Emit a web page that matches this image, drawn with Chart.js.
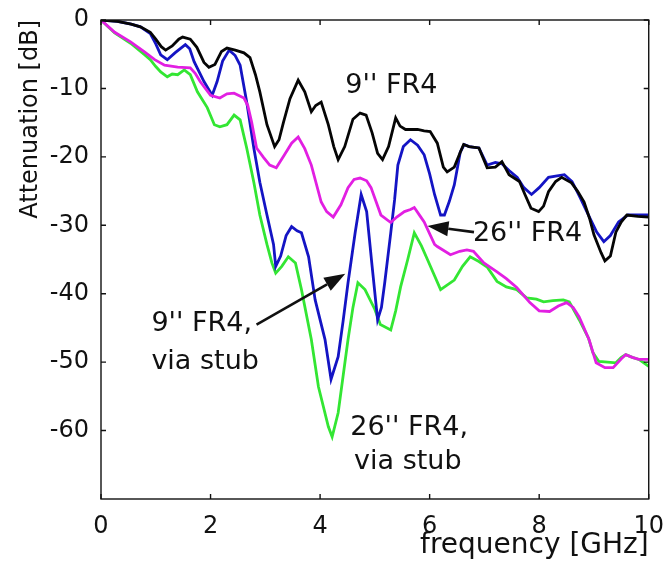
<!DOCTYPE html>
<html>
<head>
<meta charset="utf-8">
<title>Attenuation vs frequency</title>
<script src="https://cdn.jsdelivr.net/npm/chart.js@4.4.1/dist/chart.umd.min.js"></script>
<style>
    html, body { margin: 0; padding: 0; background: #ffffff; }
    canvas { display: block; }
</style>
</head>
<body>
<canvas id="attenuationChart" width="669" height="569"></canvas>
<script>
const xTicks = [0, 2, 4, 6, 8, 10];
const yTicks = [0, -10, -20, -30, -40, -50, -60];

// 9" FR4
const fr4ShortFreq = [0, 0.3, 0.55, 0.72, 0.9, 1.0, 1.1, 1.18, 1.3, 1.42, 1.49, 1.63, 1.75, 1.88, 1.97, 2.08, 2.2, 2.3, 2.45, 2.61, 2.72, 2.82, 2.9, 3.03, 3.17, 3.25, 3.33, 3.45, 3.6, 3.72, 3.84, 3.92, 4.02, 4.15, 4.25, 4.33, 4.45, 4.6, 4.73, 4.84, 4.95, 5.05, 5.14, 5.25, 5.38, 5.46, 5.56, 5.78, 5.9, 6.01, 6.14, 6.25, 6.32, 6.45, 6.55, 6.62, 6.72, 6.9, 7.05, 7.2, 7.32, 7.45, 7.64, 7.74, 7.85, 7.99, 8.08, 8.17, 8.3, 8.41, 8.59, 8.7, 8.82, 8.92, 9.0, 9.13, 9.2, 9.3, 9.4, 9.5, 9.6, 9.8, 10.0];
const fr4ShortDb = [0, -0.2, -0.6, -1.0, -1.8, -2.8, -3.9, -4.4, -3.8, -2.8, -2.5, -2.8, -4.0, -6.2, -6.9, -6.5, -4.6, -4.1, -4.4, -4.8, -5.5, -8.0, -10.5, -15.3, -18.5, -17.5, -15.0, -11.5, -8.8, -10.5, -13.4, -12.5, -12.0, -15.3, -18.5, -20.4, -18.5, -14.5, -13.6, -13.9, -16.5, -19.5, -20.4, -18.5, -14.3, -15.5, -16.0, -16.0, -16.2, -16.3, -18.0, -21.5, -22.2, -21.5, -19.5, -18.2, -18.5, -18.7, -21.6, -21.5, -20.7, -22.6, -23.6, -25.5, -27.5, -28.0, -27.2, -25.1, -23.6, -23.0, -23.8, -25.0, -26.6, -29.0, -31.4, -34.0, -35.2, -34.5, -31.0, -29.5, -28.5, -28.7, -28.8];

// 9" FR4, via stub
const fr4ShortStubFreq = [0, 0.3, 0.55, 0.72, 0.9, 1.0, 1.09, 1.21, 1.35, 1.54, 1.62, 1.7, 1.88, 2.03, 2.12, 2.22, 2.34, 2.45, 2.54, 2.66, 2.79, 2.9, 3.03, 3.15, 3.19, 3.28, 3.38, 3.48, 3.58, 3.66, 3.79, 3.91, 4.09, 4.2, 4.33, 4.42, 4.51, 4.64, 4.75, 4.85, 4.95, 5.05, 5.12, 5.18, 5.29, 5.36, 5.42, 5.52, 5.65, 5.78, 5.9, 6.0, 6.09, 6.2, 6.27, 6.36, 6.45, 6.56, 6.63, 6.72, 6.9, 7.05, 7.2, 7.32, 7.45, 7.6, 7.72, 7.86, 8.0, 8.17, 8.3, 8.46, 8.6, 8.75, 8.9, 9.05, 9.18, 9.3, 9.45, 9.62, 9.8, 10.0];
const fr4ShortStubDb = [0, -0.2, -0.6, -1.0, -2.0, -3.5, -5.1, -5.8, -4.8, -3.6, -4.2, -6.1, -9.0, -11.0, -9.0, -6.0, -4.4, -5.2, -6.6, -12.0, -18.7, -23.7, -28.5, -32.8, -36.0, -34.5, -31.5, -30.2, -30.8, -31.1, -34.6, -40.9, -46.7, -52.5, -49.2, -44.0, -38.4, -31.1, -25.5, -28.0, -36.0, -43.8, -42.0, -38.4, -31.1, -26.3, -21.2, -18.5, -17.5, -18.3, -19.7, -22.5, -25.5, -28.5, -28.5, -26.5, -24.1, -19.3, -18.2, -18.5, -18.7, -21.2, -20.8, -21.0, -22.0, -23.0, -24.5, -25.5, -24.5, -23.0, -22.8, -22.6, -23.6, -26.0, -28.5, -31.0, -32.4, -31.5, -29.5, -28.5, -28.5, -28.5];

// 26" FR4
const fr4LongFreq = [0, 0.25, 0.54, 0.8, 0.98, 1.16, 1.4, 1.63, 1.72, 1.81, 2.0, 2.17, 2.3, 2.43, 2.61, 2.68, 2.75, 2.84, 2.97, 3.08, 3.2, 3.35, 3.48, 3.6, 3.72, 3.84, 4.02, 4.12, 4.24, 4.38, 4.51, 4.62, 4.73, 4.85, 4.93, 5.11, 5.29, 5.4, 5.54, 5.65, 5.72, 5.83, 5.9, 6.09, 6.14, 6.38, 6.55, 6.68, 6.8, 6.99, 7.23, 7.4, 7.59, 7.83, 8.0, 8.19, 8.35, 8.5, 8.62, 8.73, 8.91, 9.04, 9.2, 9.35, 9.5, 9.58, 9.7, 9.82, 10.0];
const fr4LongDb = [0, -1.8, -3.2, -4.7, -5.8, -6.6, -6.9, -7.0, -7.8, -9.0, -11.0, -11.4, -10.8, -10.7, -11.4, -12.5, -14.9, -18.7, -20.1, -21.2, -21.6, -19.7, -18.0, -17.1, -18.8, -21.2, -26.6, -28.0, -28.8, -27.0, -24.5, -23.3, -23.1, -23.5, -24.5, -28.5, -29.6, -28.8, -28.0, -27.7, -27.4, -28.7, -29.5, -32.8, -33.1, -34.3, -33.8, -33.6, -33.8, -35.5, -36.8, -37.8, -39.1, -41.3, -42.5, -42.6, -41.8, -41.3, -42.0, -43.4, -46.7, -50.1, -50.8, -50.8, -49.5, -48.9, -49.3, -49.6, -49.6];

// 26" FR4, via stub
const fr4LongStubFreq = [0, 0.25, 0.54, 0.8, 0.9, 1.0, 1.09, 1.21, 1.3, 1.4, 1.52, 1.63, 1.76, 1.94, 2.07, 2.17, 2.3, 2.43, 2.54, 2.66, 2.79, 2.9, 3.03, 3.12, 3.19, 3.3, 3.42, 3.55, 3.66, 3.84, 3.97, 4.15, 4.22, 4.33, 4.51, 4.6, 4.69, 4.82, 5.0, 5.1, 5.29, 5.38, 5.47, 5.6, 5.72, 5.85, 5.96, 6.2, 6.45, 6.6, 6.74, 6.9, 7.05, 7.23, 7.4, 7.59, 7.77, 7.95, 8.08, 8.25, 8.44, 8.55, 8.73, 8.9, 8.98, 9.09, 9.25, 9.4, 9.5, 9.58, 9.7, 9.82, 10.0];
const fr4LongStubDb = [0, -1.9, -3.4, -5.1, -5.8, -6.8, -7.6, -8.3, -7.9, -8.0, -7.3, -8.0, -10.5, -12.8, -15.3, -15.6, -15.3, -13.9, -14.6, -18.7, -23.7, -28.5, -32.8, -35.5, -37.0, -36.0, -34.6, -35.5, -39.4, -46.7, -53.6, -59.4, -60.9, -57.4, -46.7, -42.0, -38.4, -39.4, -42.3, -44.5, -45.3, -42.5, -39.0, -35.0, -31.1, -33.0, -35.0, -39.4, -38.0, -36.0, -34.6, -35.3, -36.1, -38.2, -39.0, -39.4, -40.6, -40.8, -41.2, -41.0, -40.9, -41.2, -43.8, -46.5, -48.6, -49.9, -50.0, -50.1, -49.3, -48.9, -49.3, -49.6, -50.6];

// text labels, anchored in data units (left edge, vertical middle)
const noteTexts = ["9'' FR4", "26'' FR4", "9'' FR4,", "via stub", "26'' FR4,", "via stub"];
const noteFreq = [4.46, 6.79, 0.92, 0.92, 4.55, 4.62];
const noteDb = [-9.6, -31.3, -44.4, -50.0, -59.6, -64.6];

// arrows: tail -> tip, data units
const arrowTailFreq = [6.81, 2.84];
const arrowTailDb = [-31.0, -44.5];
const arrowTipFreq = [5.96, 4.46];
const arrowTipDb = [-30.1, -37.1];

const FONT = "'DejaVu Sans', 'Liberation Sans', Arial, sans-serif";

function toPoints(freq, db) {
    return freq.map((f, i) => ({ x: f, y: db[i] }));
}

function drawArrow(ctx, x1, y1, x2, y2) {
    const angle = Math.atan2(y2 - y1, x2 - x1);
    const headLen = 21;
    const headHalf = 7.5;
    const bx = x2 - headLen * Math.cos(angle);
    const by = y2 - headLen * Math.sin(angle);

    ctx.beginPath();
    ctx.moveTo(x1, y1);
    ctx.lineTo(bx, by);
    ctx.stroke();

    ctx.beginPath();
    ctx.moveTo(x2, y2);
    ctx.lineTo(bx + headHalf * Math.sin(angle), by - headHalf * Math.cos(angle));
    ctx.lineTo(bx - headHalf * Math.sin(angle), by + headHalf * Math.cos(angle));
    ctx.closePath();
    ctx.fill();
}

const frameAndNotes = {
    id: "frameAndNotes",
    afterDatasetsDraw(chart) {
        const { ctx, chartArea: area } = chart;
        const xScale = chart.scales.x;
        const yScale = chart.scales.y;
        const tickLen = 5;

        ctx.save();
        ctx.strokeStyle = "#111";
        ctx.lineWidth = 1.4;
        ctx.strokeRect(area.left, area.top, area.right - area.left, area.bottom - area.top);

        // inward ticks on all four sides
        ctx.beginPath();
        xTicks.forEach(v => {
            const px = xScale.getPixelForValue(v);
            ctx.moveTo(px, area.bottom);
            ctx.lineTo(px, area.bottom - tickLen);
            ctx.moveTo(px, area.top);
            ctx.lineTo(px, area.top + tickLen);
        });
        yTicks.forEach(v => {
            const py = yScale.getPixelForValue(v);
            ctx.moveTo(area.left, py);
            ctx.lineTo(area.left + tickLen, py);
            ctx.moveTo(area.right, py);
            ctx.lineTo(area.right - tickLen, py);
        });
        ctx.stroke();

        ctx.fillStyle = "#111";
        ctx.font = "27px " + FONT;
        ctx.textAlign = "left";
        ctx.textBaseline = "middle";
        noteTexts.forEach((text, i) => {
            ctx.fillText(text, xScale.getPixelForValue(noteFreq[i]), yScale.getPixelForValue(noteDb[i]));
        });

        ctx.lineWidth = 2.6;
        arrowTailFreq.forEach((f, i) => {
            drawArrow(
                ctx,
                xScale.getPixelForValue(f),
                yScale.getPixelForValue(arrowTailDb[i]),
                xScale.getPixelForValue(arrowTipFreq[i]),
                yScale.getPixelForValue(arrowTipDb[i])
            );
        });
        ctx.restore();
    }
};

function lineSet(label, freq, db, color) {
    return {
        label: label,
        data: toPoints(freq, db),
        borderColor: color,
        borderWidth: 2.8,
        pointRadius: 0,
        tension: 0,
        fill: false
    };
}

const chartContext = document.getElementById("attenuationChart").getContext("2d");

new Chart(chartContext, {
    type: "line",
    data: {
        datasets: [
            lineSet("9'' FR4", fr4ShortFreq, fr4ShortDb, "#050505"),
            lineSet("26'' FR4", fr4LongFreq, fr4LongDb, "#e21fe2"),
            lineSet("9'' FR4, via stub", fr4ShortStubFreq, fr4ShortStubDb, "#1414c4"),
            lineSet("26'' FR4, via stub", fr4LongStubFreq, fr4LongStubDb, "#33e633")
        ]
    },
    options: {
        responsive: false,
        animation: false,
        devicePixelRatio: 1,
        layout: { padding: { top: 20, right: 16, bottom: 0, left: 0 } },
        plugins: {
            legend: { display: false },
            tooltip: { enabled: false }
        },
        scales: {
            x: {
                type: "linear",
                min: 0,
                max: 10,
                grid: { display: false },
                border: { display: false },
                afterBuildTicks: scale => { scale.ticks = xTicks.map(v => ({ value: v })); },
                afterFit: scale => { scale.height = 70; },
                ticks: {
                    color: "#111",
                    padding: 5,
                    maxRotation: 0,
                    font: { family: FONT, size: 24 }
                },
                title: {
                    display: true,
                    text: "frequency [GHz]",
                    align: "end",
                    color: "#111",
                    padding: { top: 0, bottom: 6 },
                    font: { family: FONT, size: 28 }
                }
            },
            y: {
                type: "linear",
                min: -70,
                max: 0,
                grid: { display: false },
                border: { display: false },
                afterBuildTicks: scale => { scale.ticks = yTicks.map(v => ({ value: v })); },
                afterFit: scale => { scale.width = 101; },
                ticks: {
                    color: "#111",
                    padding: 4,
                    font: { family: FONT, size: 24 }
                },
                title: {
                    display: true,
                    text: "Attenuation [dB]",
                    align: "end",
                    color: "#111",
                    padding: { top: 16, bottom: 0 },
                    font: { family: FONT, size: 24 }
                }
            }
        }
    },
    plugins: [frameAndNotes]
});
</script>
</body>
</html>
